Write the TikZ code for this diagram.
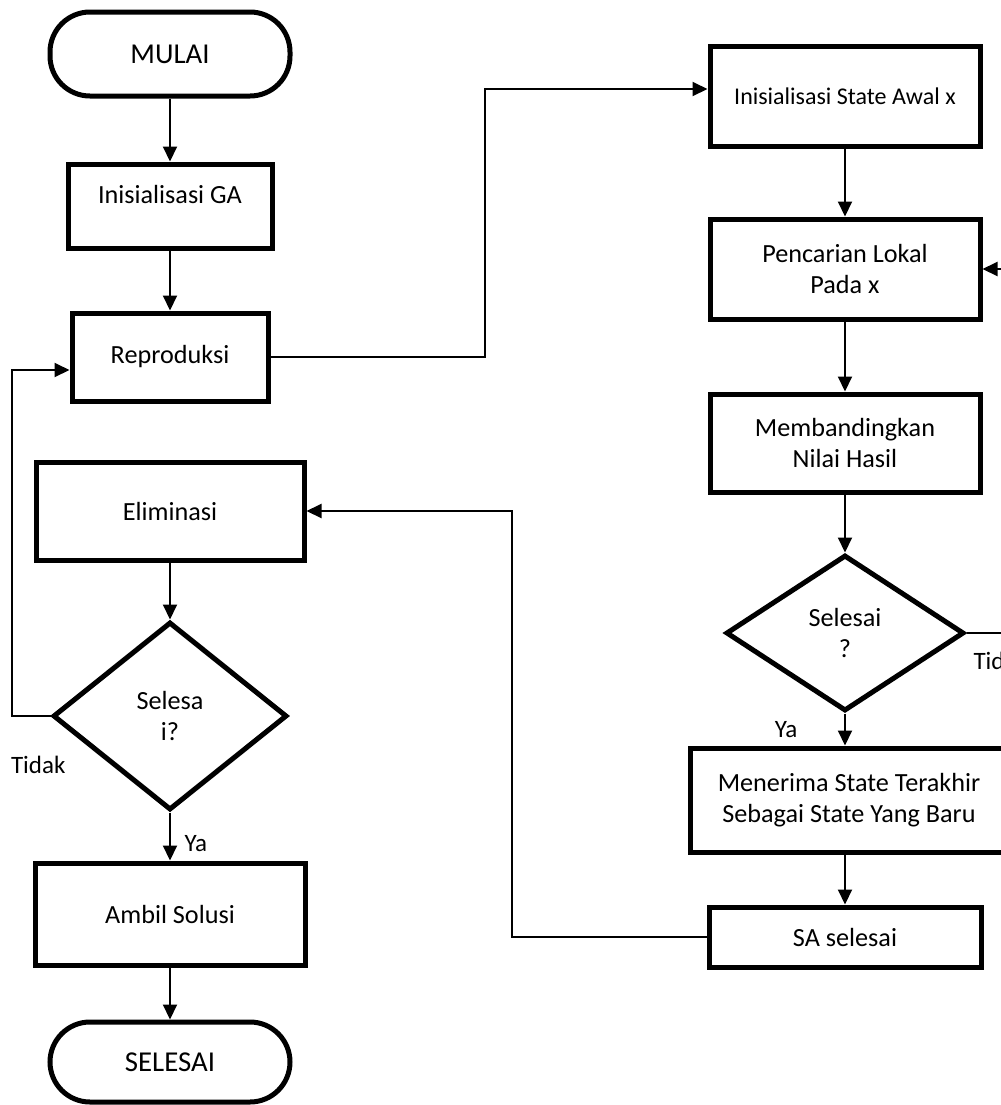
\documentclass[tikz,border=0pt]{standalone}
\usepackage{fontspec}
\setmainfont{Carlito}
\usepackage{tikz}
\usetikzlibrary{arrows.meta,shapes.geometric,positioning,calc}

\tikzset{
  proses/.style={draw,line width=2.5pt,rectangle,align=center,inner sep=3pt,
                 font=\fontsize{13.1}{15.5}\selectfont},
  terminal/.style={proses,rounded corners=20pt,font=\fontsize{14.4}{16}\selectfont},
  keputusan/.style={proses,diamond,inner sep=0pt},
  panah/.style={line width=1pt,-{Triangle[length=7.5pt,width=7pt]}},
  ket/.style={font=\fontsize{12.5}{14}\selectfont}
}

\begin{document}
\begin{tikzpicture}[x=0.5pt,y=-0.5pt]
    \useasboundingbox (0,0) rectangle (1001,1105);
    \fill[white] (0,0) rectangle (1001,1105);
    \clip (0,0) rectangle (1001,1105);

    % kolom kiri: GA
    \node[terminal,minimum width=120pt,minimum height=42pt] (mulai) at (170,54) {MULAI};
    \node[proses,minimum width=102pt,minimum height=42pt,text depth=12pt] (initga) at (170,206) {Inisialisasi GA};
    \node[proses,minimum width=98pt,minimum height=44pt] (repro) at (170,357) {Reproduksi};
    \node[proses,minimum width=134pt,minimum height=49pt] (elim) at (170,511) {Eliminasi};
    \node[keputusan,minimum width=117pt,minimum height=94pt] (cek1) at (170,716) {Selesa\\i?};
    \node[proses,minimum width=135pt,minimum height=51pt] (ambil) at (170,914) {Ambil Solusi};
    \node[terminal,minimum width=120pt,minimum height=40pt] (selesai) at (170,1062) {SELESAI};

    % kolom kanan: SA
    \node[proses,minimum width=135pt,minimum height=50pt,font=\fontsize{12}{15}\selectfont] (initsa) at (845,96) {Inisialisasi State Awal x};
    \node[proses,minimum width=135pt,minimum height=50pt] (cari) at (845,269) {Pencarian Lokal\\Pada x};
    \node[proses,minimum width=135pt,minimum height=49pt] (banding) at (845,443) {Membandingkan\\Nilai Hasil};
    \node[keputusan,minimum width=119pt,minimum height=78pt] (cek2) at (845,633) {Selesai\\?};
    \node[proses,minimum width=159pt,minimum height=52pt] (terima) at (849,800) {Menerima State Terakhir\\Sebagai State Yang Baru};
    \node[proses,minimum width=136pt,minimum height=30pt] (sa) at (845,937) {SA selesai};

    \coordinate (belokA) at (485,357);
    \coordinate (belokB) at (512,937);
    \coordinate (belokC) at (1040,633);
    \coordinate (belokD) at (12,716);

    \draw[panah] (mulai) -- (initga);
    \draw[panah] (initga) -- (repro);
    \draw[panah] (repro.east) -- (belokA) |- ([yshift=3.5pt]initsa.west);
    \draw[panah] (elim) -- (cek1);
    \draw[panah] (cek1) -- node[ket,pos=0.65,right=3.5pt]{Ya} (ambil);
    \draw[panah] (cek1.west) -- (belokD) |- ([yshift=-6.5pt]repro.west);
    \node[ket,anchor=west] (tidak1) at (4,765) {Tidak};
    \draw[panah] (ambil) -- (selesai);

    \draw[panah] (initsa) -- (cari);
    \draw[panah] (cari) -- (banding);
    \draw[panah] (banding) -- (cek2);
    \draw[panah] (cek2.south) -- node[ket,midway,left=20pt]{Ya} (cek2.south |- terima.north);
    \draw[panah] (cek2.east) -- (belokC) |- (cari.east);
    \node[ket,below right=6pt and 0pt of cek2.east] (tidak2) {Tidak};
    \draw[panah] (terima.south -| sa.north) -- (sa.north);
    \draw[panah] (sa.west) -- (belokB) |- (elim.east);
\end{tikzpicture}
\end{document}
